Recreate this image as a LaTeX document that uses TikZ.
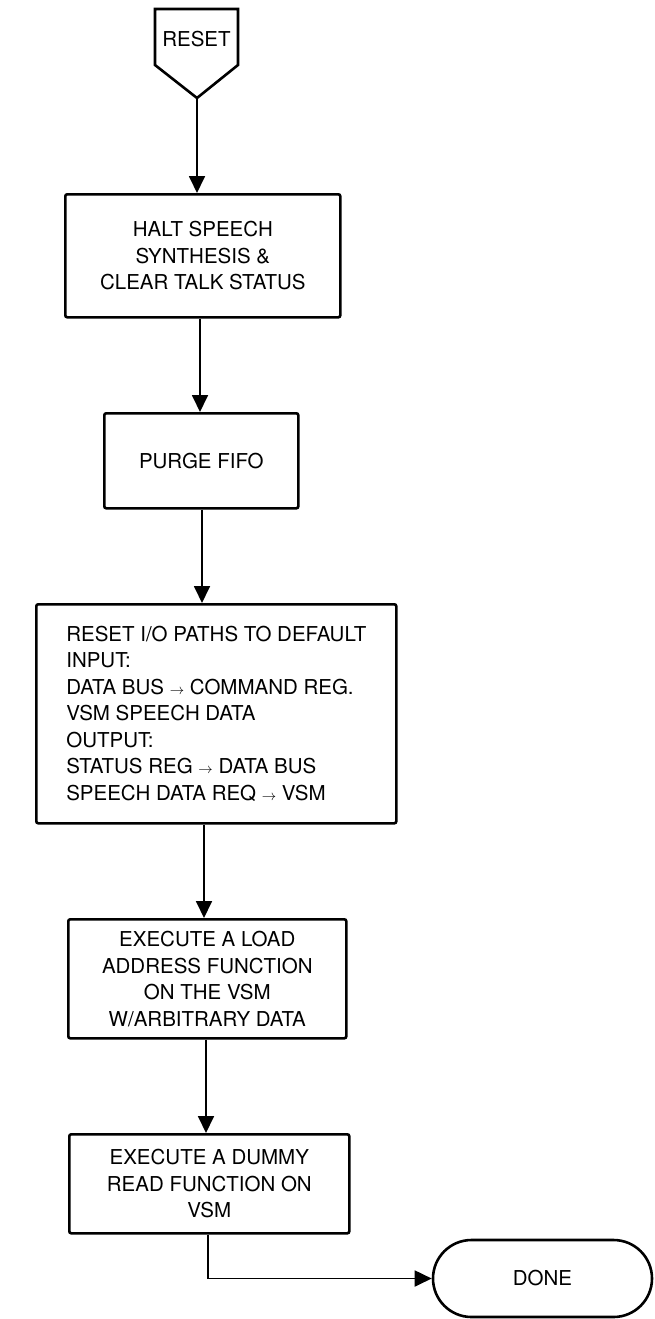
\documentclass[tikz,border=0pt]{standalone}
\usepackage{fontspec}
\setmainfont{TeX Gyre Heros}
\usetikzlibrary{arrows.meta,shapes.misc}
\newcommand\myarr{{\fontsize{15}{15}\selectfont$\rightarrow$}}
\begin{document}
\begin{tikzpicture}[x=1pt,y=-1pt,
  txt/.style={font=\fontsize{20.5}{26.5}\selectfont},
  procbox/.style={txt,draw,line width=2.6pt,rounded corners=2pt,inner sep=0pt,anchor=north west,align=center},
  conn/.style={line width=1.8pt},
  arr/.style={conn,-{Triangle[width=16pt,length=17pt]}},
  term/.style={txt,draw,line width=2.6pt,rounded rectangle,inner sep=0pt}]
\useasboundingbox (0,0) rectangle (655,1319);
% RESET off-page connector
\draw[line width=2.6pt,line join=miter] (155,9) -- (238,9) -- (238,65) -- (197,98) -- (155,65) -- cycle;
\node[txt] (reset) at (196.5,39) {RESET};
\coordinate (resettip) at (197,98);
% boxes
\node[procbox,minimum width=275pt,minimum height=123pt] (b1) at (64,193)
  {HALT SPEECH\\SYNTHESIS \&\\CLEAR TALK STATUS};
\node[procbox,minimum width=194pt,minimum height=95pt] (b2) at (103,412)
  {PURGE FIFO};
\node[procbox,minimum width=360pt,minimum height=219pt,align=left,inner xsep=9pt] (b3) at (35,603)
  {RESET I/O PATHS TO DEFAULT\\INPUT:\\DATA BUS \myarr{} COMMAND REG.\\VSM SPEECH DATA\\OUTPUT:\\STATUS REG \myarr{} DATA BUS\\SPEECH DATA REQ \myarr{} VSM};
\node[procbox,minimum width=278pt,minimum height=119pt] (b4) at (67,918)
  {EXECUTE A LOAD\\ADDRESS FUNCTION\\ON THE VSM\\W/ARBITRARY DATA};
\node[procbox,minimum width=280pt,minimum height=99pt] (b5) at (68,1133)
  {EXECUTE A DUMMY\\READ FUNCTION ON\\VSM};
\node[term,minimum width=219pt,minimum height=77pt] (done) at (542.5,1278.5) {DONE};
% connectors
\draw[arr] (resettip) -- (b1.north -| resettip);
\draw[arr] (b1.south -| 200,0) -- (b2.north -| 200,0);
\draw[arr] (b2.south -| 202,0) -- (b3.north -| 202,0);
\draw[arr] (b3.south -| 204,0) -- (b4.north -| 204,0);
\draw[arr] (b4.south -| 206,0) -- (b5.north -| 206,0);
\draw[arr] (b5.south -| 208,0) |- (done.west);
\end{tikzpicture}
\end{document}
